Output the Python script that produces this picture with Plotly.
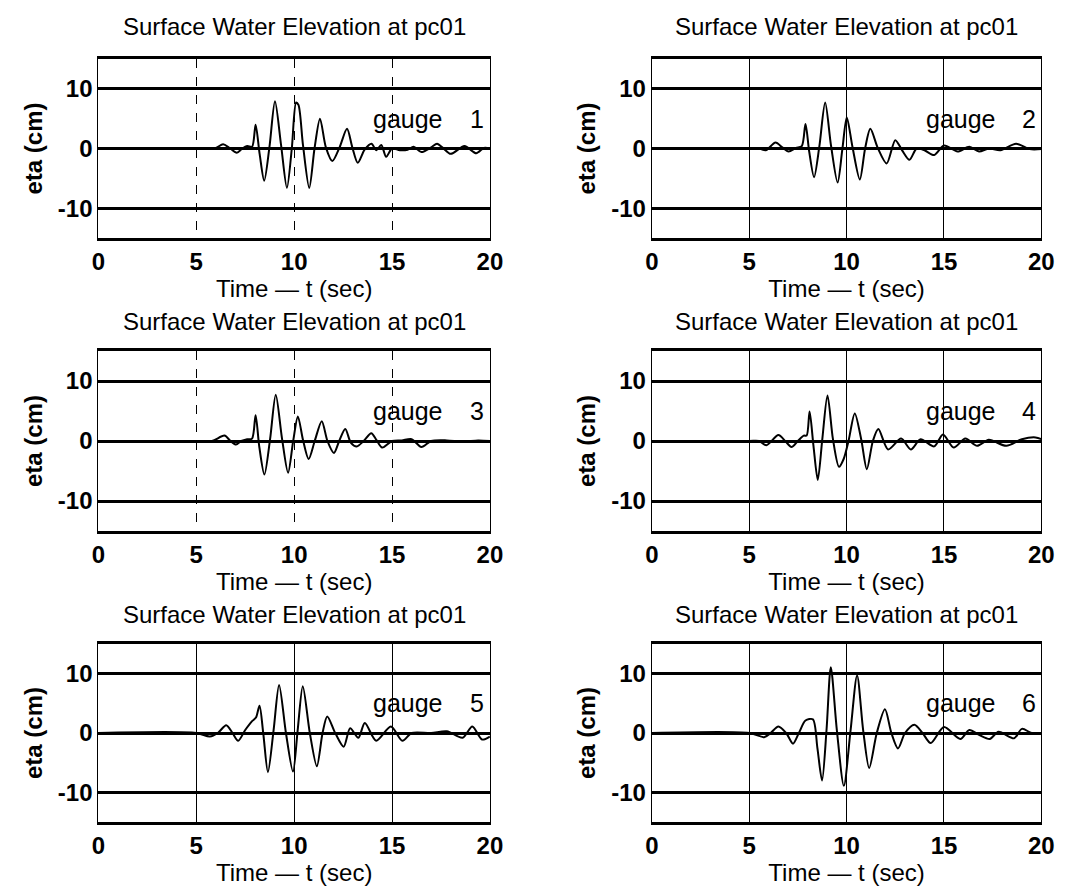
import plotly.graph_objects as go
from plotly.subplots import make_subplots

# wave records: time (s) and surface elevation (cm)
t_g1 = [0, 5.0, 5.6, 6.0, 6.37, 6.7, 7.07, 7.35, 7.6, 7.85, 8.03, 8.24, 8.47, 8.74, 9.02, 9.33,
        9.63, 9.88, 10.1, 10.22, 10.45, 10.77, 11.04, 11.32, 11.62, 11.95, 12.32, 12.7, 12.97, 13.25,
        13.6, 13.95, 14.2, 14.45, 14.7, 15.0, 15.4, 15.8, 16.1, 16.5, 17.0, 17.3, 17.6, 18.0,
        18.7, 19.3, 19.7, 20.0]
eta_g1 = [0, 0, -0.1, 0.1, 0.7, 0.1, -0.7, 0, 0.4, 0.3, 4.0, -1.0, -5.4, 0.3, 7.9, 0.6,
          -6.6, 0, 7.7, 7.3, 0.6, -6.6, 0, 5.0, 0.2, -2.1, 0.2, 3.3, 0.2, -2.4,
          -0.2, 0.8, -0.3, 0.6, -1.4, 0, -0.3, -0.2, 0.3, -0.6, 0.2, 0.8, 0.1, -0.9,
          0.4, -0.8, 0.1, 0]

t_g2 = [0, 5.0, 5.5, 5.85, 6.35, 6.7, 7.02, 7.4, 7.7, 7.89, 8.08, 8.33, 8.6, 8.9, 9.2, 9.54,
        9.78, 10.01, 10.3, 10.68, 10.95, 11.22, 11.6, 12.06, 12.5, 12.85, 13.23, 13.6, 14.0,
        14.5, 15.0, 15.7, 16.3, 16.8, 17.3, 17.9, 18.7, 19.4, 20.0]
eta_g2 = [0, 0, 0, -0.3, 1.0, 0.2, -0.5, 0.1, 0.4, 4.1, -0.5, -4.8, 0.3, 7.7, 0.5, -5.7,
          -0.2, 5.2, 0.3, -5.2, 0, 3.3, 0.1, -2.5, 1.4, -0.3, -1.9, 0, -0.3,
          -1.1, 0.5, -0.5, 0.3, -0.5, 0, -0.3, 0.8, -0.1, -0.1]

t_g3 = [0, 5.0, 5.8, 6.44, 6.75, 7.03, 7.3, 7.6, 7.85, 8.03, 8.22, 8.48, 8.77, 9.06, 9.38,
        9.69, 9.95, 10.19, 10.45, 10.74, 11.05, 11.41, 11.7, 12.03, 12.3, 12.61, 12.9, 13.2,
        13.55, 13.94, 14.2, 14.5, 15.0, 15.5, 16.0, 16.5, 17.0, 17.8, 18.6, 19.4, 20.0]
eta_g3 = [0, 0, 0, 0.9, 0, -0.6, 0, 0.3, 0.4, 4.3, -1.0, -5.6, 0.3, 7.7, 0.4,
          -5.3, 0, 4.1, 0.2, -3.0, 0, 3.3, 0, -2.0, 0, 2.0, -0.3, -0.9,
          0, 1.3, 0.2, -1.1, 0, 0.1, 0.3, -1.0, 0, 0.1, -0.1, 0.1, 0]

t_g4 = [0, 5.0, 5.5, 5.88, 6.5, 6.85, 7.17, 7.5, 7.8, 7.95, 8.1, 8.3, 8.52, 8.75, 9.02, 9.3,
        9.61, 9.85, 10.1, 10.42, 10.75, 11.04, 11.35, 11.63, 12.13, 12.8, 13.3, 13.8, 14.5,
        14.95, 15.5, 16.1, 16.7, 17.3, 18.2, 19.0, 19.7, 20.0]
eta_g4 = [0, 0, 0, -0.7, 1.0, 0, -1.0, 0, 0.9, 0.9, 4.9, -0.8, -6.5, 0.2, 7.6, 0.3,
          -4.3, -3.0, 0, 4.6, 0.3, -4.7, 0, 2.0, -1.4, 0.4, -1.4, 0.3, -0.9,
          1.1, -1.1, 0.4, -0.8, 0.2, -0.8, 0.3, 0.6, 0.3]

t_g5 = [0, 5.0, 5.69, 6.1, 6.53, 6.85, 7.14, 7.5, 7.85, 8.05, 8.23, 8.42, 8.66, 8.95, 9.23,
        9.58, 9.94, 10.18, 10.44, 10.8, 11.16, 11.45, 11.69, 12.1, 12.53, 12.86, 13.28, 13.61,
        14.19, 14.94, 15.53, 16.0, 17.0, 17.8, 18.6, 19.1, 19.6, 20.0]
eta_g5 = [0, 0, -0.6, 0, 1.3, 0, -1.3, 0.5, 2.0, 2.6, 4.6, 0, -6.6, 0.5, 8.1,
          0, -6.5, 0.5, 7.9, 0, -5.6, 0, 2.8, 0, -2.3, 0.8, -0.8, 1.7,
          -1.3, 1.1, -1.3, 0, 0, 0.3, -0.8, 1.1, -1.1, -0.6]

t_g6 = [0, 5.0, 5.77, 6.1, 6.5, 6.9, 7.25, 7.55, 7.89, 8.27, 8.5, 8.74, 8.97, 9.19, 9.5,
        9.86, 10.2, 10.54, 10.85, 11.16, 11.55, 11.97, 12.3, 12.64, 13.0, 13.48, 13.9, 14.32,
        15.0, 15.84, 16.3, 16.8, 17.35, 17.8, 18.6, 19.0, 19.5, 20.0]
eta_g6 = [0, 0, -0.7, 0, 1.1, 0, -1.8, 0, 2.1, 2.3, -2.5, -8.0, 0.5, 11.1, 0.5,
          -8.9, 0.3, 9.7, 0.5, -5.9, 0, 4.0, 0, -2.6, 0, 1.4, 0, -1.7,
          1.0, -1.0, 0.5, -0.3, -1.0, 0.2, -0.9, 0.7, 0, 0]

gauges = [(t_g1, eta_g1), (t_g2, eta_g2), (t_g3, eta_g3),
          (t_g4, eta_g4), (t_g5, eta_g5), (t_g6, eta_g6)]
gauge_ids = ["1", "2", "3", "4", "5", "6"]

x_ticks = [0, 5, 10, 15, 20]
y_ticks = [-10, 0, 10]
y_tick_text = ["-10", "0", "10"]
panel_title = "Surface Water Elevation at pc01"
x_title = "Time \u2014 t (sec)"
y_title = "eta (cm)"

FONT = "Liberation Sans, Arial, Helvetica, sans-serif"
W, H = 1065, 888

# plot boxes in pixels (left, right) and (top, bottom)
cols_px = [(85, 484), (649, 1046)]
rows_px = [(51, 230), (343, 523), (636, 814)]
title_px = [19, 313, 606]

fig = make_subplots(rows=3, cols=2)

for i, (t, eta) in enumerate(gauges):
    r, c = i // 2, i % 2
    fig.add_trace(go.Scatter(
        x=t, y=eta, mode="lines",
        line=dict(color="black", width=2, shape="spline", smoothing=0.8),
        showlegend=False, hoverinfo="skip"
    ), row=r + 1, col=c + 1)

    x0, x1 = cols_px[c]
    y0, y1 = rows_px[r]
    fig.update_xaxes(
        domain=[x0 / W, x1 / W], range=[0, 20],
        tickvals=x_ticks, ticks="",
        tickfont=dict(family=FONT, size=24, color="black", weight="bold"),
        showgrid=True, gridcolor="black", gridwidth=1,
        griddash="dash" if i in (0, 2) else "solid",
        zeroline=False,
        showline=True, linecolor="black", linewidth=3, mirror=True,
        title=dict(text=x_title, font=dict(family=FONT, size=24, color="black"), standoff=7),
        row=r + 1, col=c + 1)
    fig.update_yaxes(
        domain=[1 - y1 / H, 1 - y0 / H], range=[-15, 15],
        tickvals=y_ticks, ticktext=y_tick_text, ticks="",
        tickfont=dict(family=FONT, size=24, color="black", weight="bold"),
        showgrid=True, gridcolor="black", gridwidth=2.5,
        zeroline=True, zerolinecolor="black", zerolinewidth=2.5,
        showline=True, linecolor="black", linewidth=1.2, mirror=True,
        title=dict(text=y_title, font=dict(family=FONT, size=24, color="black", weight="bold"), standoff=8),
        row=r + 1, col=c + 1)

    xref = "x" if i == 0 else "x%d" % (i + 1)
    yref = "y" if i == 0 else "y%d" % (i + 1)
    fig.add_annotation(x=(x0 + x1) / 2 / W, y=1 - title_px[r] / H, xref="paper", yref="paper",
                       text=panel_title, showarrow=False, xanchor="center", yanchor="middle",
                       font=dict(family=FONT, size=24, color="black"))
    fig.add_annotation(x=13.95, y=5.0, xref=xref, yref=yref, text="gauge", showarrow=False,
                       xanchor="left", yanchor="middle",
                       font=dict(family=FONT, size=25, color="black"))
    fig.add_annotation(x=19.35, y=5.0, xref=xref, yref=yref, text=gauge_ids[i], showarrow=False,
                       xanchor="center", yanchor="middle",
                       font=dict(family=FONT, size=25, color="black"))

fig.update_layout(
    width=W, height=H,
    margin=dict(l=0, r=0, t=0, b=0),
    paper_bgcolor="white", plot_bgcolor="white",
    showlegend=False
)

fig.write_html("out.html")
